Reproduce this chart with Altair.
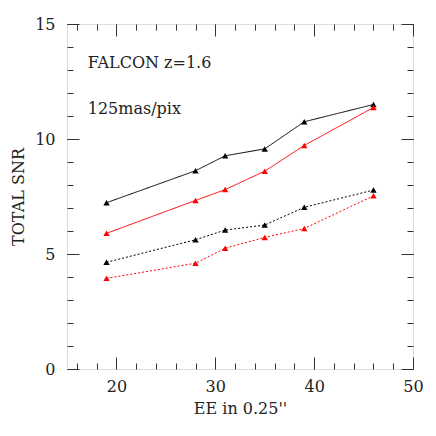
import altair as alt
import pandas as pd

ee = [19, 28, 31, 35, 39, 46]
black_solid = [7.23, 8.62, 9.27, 9.57, 10.75, 11.5]
red_solid = [5.9, 7.33, 7.8, 8.6, 9.72, 11.37]
black_dotted = [4.64, 5.62, 6.04, 6.26, 7.03, 7.78]
red_dotted = [3.94, 4.6, 5.25, 5.72, 6.11, 7.53]

series_names = ["black solid", "red solid", "black dotted", "red dotted"]
series_vals = [black_solid, red_solid, black_dotted, red_dotted]
series_colors = ["black", "#ff0000", "black", "#ff0000"]
series_dash = [[1, 0], [1, 0], [2, 2], [2, 2]]

ann_text = ["FALCON z=1.6", "125mas/pix"]
ann_x = [17.1, 17.1]
ann_y = [13.3, 11.3]

x_major = [20, 30, 40, 50]
x_minor = list(range(16, 50, 2))
y_major = [0, 5, 10, 15]
y_minor = list(range(0, 16))

XDOM = [15, 50]
YDOM = [0, 15]
FONT = "DejaVu Serif"
FS = 16
TXT = "#222"

rows = []
for name, vals in zip(series_names, series_vals):
    for x, y in zip(ee, vals):
        rows.append({"series": name, "ee": x, "snr": y})
df = pd.DataFrame(rows)

xs = alt.Scale(domain=XDOM, nice=False, zero=False)
ys = alt.Scale(domain=YDOM, nice=False, zero=False)

main = alt.Chart(df).mark_line(
    strokeWidth=1,
    point=alt.OverlayMarkDef(shape="triangle-up", filled=True, size=40, opacity=1),
).encode(
    x=alt.X("ee:Q", scale=xs, axis=alt.Axis(orient="bottom", values=x_major, ticks=False, domain=False,
                                             grid=False, title="EE in 0.25''", labelFont=FONT, titleFont=FONT,
                                             labelFontSize=FS, titleFontSize=FS, titleFontWeight="normal",
                                             labelFlush=False, labelPadding=9, titlePadding=6,
                                             labelColor=TXT, titleColor=TXT)),
    y=alt.Y("snr:Q", scale=ys, axis=alt.Axis(orient="left", values=y_major, ticks=False, domain=False,
                                              grid=False, title="TOTAL SNR", labelFont=FONT, titleFont=FONT,
                                              labelFontSize=FS, titleFontSize=FS, titleFontWeight="normal",
                                              labelFlush=False, labelPadding=12, titlePadding=8,
                                              labelColor=TXT, titleColor=TXT)),
    color=alt.Color("series:N", scale=alt.Scale(domain=series_names, range=series_colors), legend=None),
    strokeDash=alt.StrokeDash("series:N", scale=alt.Scale(domain=series_names, range=series_dash), legend=None),
)

ann_df = pd.DataFrame({"text": ann_text, "x": ann_x, "y": ann_y})
ann = alt.Chart(ann_df).mark_text(align="left", baseline="middle", font=FONT, fontSize=FS, color=TXT).encode(
    x=alt.X("x:Q", scale=xs, axis=None),
    y=alt.Y("y:Q", scale=ys, axis=None),
    text="text:N",
)


def tick_layer(xvals, yvals, xorient, yorient, size):
    d = pd.DataFrame({"x": [XDOM[0]], "y": [YDOM[0]]})
    common = dict(ticks=True, tickSize=size, offset=-size, labels=False, domain=False, grid=False,
                  title=None, tickColor="#333", tickWidth=1)
    return alt.Chart(d).mark_point(opacity=0).encode(
        x=alt.X("x:Q", scale=xs, axis=alt.Axis(orient=xorient, values=xvals, **common)),
        y=alt.Y("y:Q", scale=ys, axis=alt.Axis(orient=yorient, values=yvals, **common)),
    )


layers = [
    tick_layer(x_major, y_major, "bottom", "left", 12),
    tick_layer(x_minor, y_minor, "bottom", "left", 6),
    tick_layer(x_major, y_major, "top", "right", 12),
    tick_layer(x_minor, y_minor, "top", "right", 6),
    main,
    ann,
]

chart = alt.layer(*layers).resolve_scale(x="independent", y="independent").properties(
    width=346, height=345,
    autosize=alt.AutoSizeParams(type="none"),
    padding={"left": 59, "top": 16, "right": 15, "bottom": 59},
).configure_view(stroke="#333", strokeWidth=1.5).configure(background="white")

chart.save("out.html", embed_options={"renderer": "svg", "actions": False})
